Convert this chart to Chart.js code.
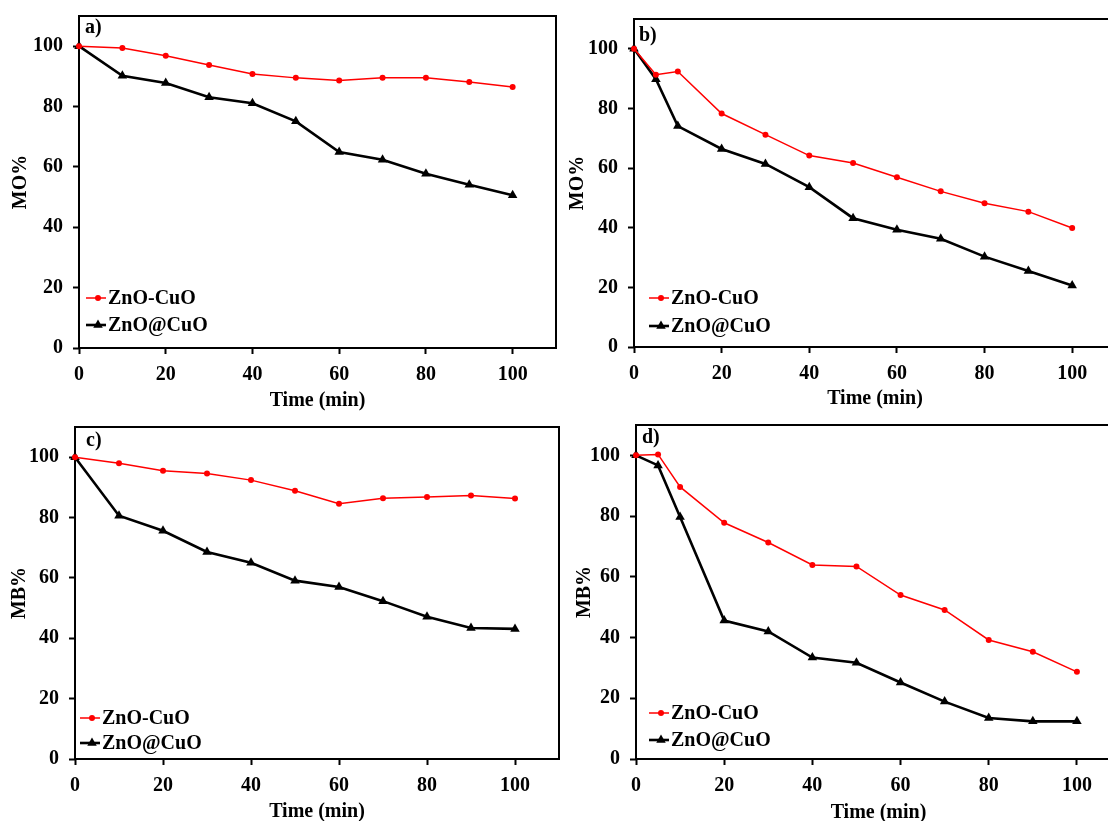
<!DOCTYPE html>
<html>
<head>
<meta charset="utf-8">
<script src="https://cdn.jsdelivr.net/npm/chart.js@4.4.1/dist/chart.umd.min.js"></script>
<style>
  html, body { margin: 0; padding: 0; background: #fff; overflow: hidden; }
  body { width: 1108px; height: 821px; position: relative; }
  canvas { position: absolute; }
</style>
</head>
<body>
<canvas id="panelA" width="560" height="412" style="left:0;top:0"></canvas>
<canvas id="panelB" width="562" height="412" style="left:556px;top:0"></canvas>
<canvas id="panelC" width="562" height="412" style="left:0;top:412px"></canvas>
<canvas id="panelD" width="567" height="412" style="left:556px;top:412px"></canvas>
<script>
// sampling times (min)
const timeA = [0, 10, 20, 30, 40, 50, 60, 70, 80, 90, 100];
const timeB = [0, 5, 10, 20, 30, 40, 50, 60, 70, 80, 90, 100];

// a) MO remaining, first run
const moMixA  = [100, 99.4, 96.8, 93.8, 90.8, 89.5, 88.6, 89.5, 89.5, 88.1, 86.5];
const moCoreA = [100, 90.2, 87.8, 83.1, 81.1, 75.1, 64.9, 62.4, 57.7, 54.1, 50.6];
// b) MO remaining, second run
const moMixB  = [100, 91.3, 92.4, 78.3, 71.2, 64.2, 61.7, 56.9, 52.2, 48.2, 45.4, 39.9];
const moCoreB = [100, 89.8, 74.1, 66.4, 61.4, 53.6, 43.2, 39.3, 36.3, 30.3, 25.5, 20.6];
// c) MB remaining, first run
const mbMixC  = [100, 98.0, 95.5, 94.6, 92.4, 88.9, 84.6, 86.4, 86.8, 87.3, 86.3];
const mbCoreC = [100, 80.6, 75.6, 68.6, 65.0, 59.1, 57.0, 52.3, 47.1, 43.4, 43.1];
// d) MB remaining, second run
const mbMixD  = [100, 100.3, 89.6, 77.8, 71.3, 63.9, 63.4, 54.0, 49.1, 39.2, 35.3, 28.7];
const mbCoreD = [100, 96.7, 79.7, 45.6, 42.0, 33.4, 31.7, 25.2, 18.9, 13.5, 12.4, 12.4];

const seriesNames = ['ZnO-CuO', 'ZnO@CuO'];
const panelTags = ['a)', 'b)', 'c)', 'd)'];
const yTitles = ['MO%', 'MO%', 'MB%', 'MB%'];
const xTitle = 'Time (min)';
const xTicks = [0, 20, 40, 60, 80, 100];
const yTicks = [0, 20, 40, 60, 80, 100];

const FONT = '"Liberation Serif", "Times New Roman", serif';

function pts(xs, ys) {
  return xs.map((x, i) => ({ x: x, y: ys[i] }));
}

// frame around the plot area
const frame = {
  id: 'frame',
  beforeDatasetsDraw(chart) {
    const { ctx, chartArea: a } = chart;
    ctx.save();
    ctx.strokeStyle = '#000';
    ctx.lineWidth = 2;
    ctx.strokeRect(a.left, a.top, a.right - a.left, a.bottom - a.top);
    ctx.restore();
  }
};

function marker(ctx, style, r, x, y) {
  ctx.beginPath();
  if (style === 'triangle') {
    let rad = 0;
    ctx.moveTo(x + Math.sin(rad) * r, y - Math.cos(rad) * r);
    rad += 2 * Math.PI / 3;
    ctx.lineTo(x + Math.sin(rad) * r, y - Math.cos(rad) * r);
    rad += 2 * Math.PI / 3;
    ctx.lineTo(x + Math.sin(rad) * r, y - Math.cos(rad) * r);
    ctx.closePath();
  } else {
    ctx.arc(x, y, r, 0, Math.PI * 2);
  }
  ctx.fill();
}

// panel tag and in-plot legend
const overlay = {
  id: 'overlay',
  afterDatasetsDraw(chart, args, opts) {
    const { ctx, chartArea: a } = chart;
    ctx.save();
    ctx.fillStyle = '#000';
    ctx.font = 'bold 20px ' + FONT;
    ctx.textBaseline = 'alphabetic';
    ctx.fillText(opts.tag, a.left + opts.tagX, a.top + opts.tagY);

    ctx.textBaseline = 'middle';
    chart.data.datasets.forEach((ds, i) => {
      const y = a.bottom - opts.rows[i];
      const x0 = a.left + opts.lineX;
      const x1 = x0 + 20;
      ctx.strokeStyle = ds.borderColor;
      ctx.lineWidth = ds.borderWidth;
      ctx.beginPath();
      ctx.moveTo(x0, y);
      ctx.lineTo(x1, y);
      ctx.stroke();
      ctx.fillStyle = ds.pointBackgroundColor;
      marker(ctx, ds.pointStyle, ds.pointRadius, (x0 + x1) / 2 + 2, y);
      ctx.fillStyle = '#000';
      ctx.fillText(ds.label, x1 + 2, y + 1);
    });
    ctx.restore();
  }
};

function makePanel(id, p) {
  const tickFont = { family: FONT, weight: 'bold', size: 20 };
  const titleFont = { family: FONT, weight: 'bold', size: 20 };
  const grid = {
    display: true,
    drawOnChartArea: false,
    drawTicks: true,
    tickLength: 6,
    tickWidth: 2,
    tickColor: '#000'
  };
  new Chart(document.getElementById(id), {
    type: 'line',
    data: {
      datasets: [
        {
          label: seriesNames[0],
          data: pts(p.time, p.mix),
          borderColor: '#ff0000',
          backgroundColor: '#ff0000',
          pointBackgroundColor: '#ff0000',
          pointBorderColor: '#ff0000',
          borderWidth: 1.5,
          pointStyle: 'circle',
          pointRadius: 3,
          pointBorderWidth: 0,
          tension: 0,
          clip: false
        },
        {
          label: seriesNames[1],
          data: pts(p.time, p.core),
          borderColor: '#000000',
          backgroundColor: '#000000',
          pointBackgroundColor: '#000000',
          pointBorderColor: '#000000',
          borderWidth: 2.6,
          pointStyle: 'triangle',
          pointRadius: 5.5,
          pointBorderWidth: 0,
          tension: 0,
          clip: false
        }
      ]
    },
    options: {
      responsive: false,
      animation: false,
      events: [],
      layout: {
        autoPadding: false,
        padding: { left: 0, top: p.top, right: p.right, bottom: 0 }
      },
      scales: {
        x: {
          type: 'linear',
          min: 0,
          max: 110,
          grid: grid,
          border: { display: false },
          afterBuildTicks: s => { s.ticks = xTicks.map(v => ({ value: v })); },
          afterFit: s => {
            s.height = p.xHeight;
            s.paddingLeft = 0;
            s.paddingRight = 0;
          },
          ticks: { color: '#000', font: tickFont, padding: 9, maxRotation: 0 },
          title: {
            display: true,
            text: xTitle,
            color: '#000',
            font: titleFont,
            padding: { top: 0, bottom: p.xTitlePad }
          }
        },
        y: {
          type: 'linear',
          min: 0,
          max: 110,
          grid: grid,
          border: { display: false },
          afterBuildTicks: s => { s.ticks = yTicks.map(v => ({ value: v })); },
          afterFit: s => {
            s.width = p.yWidth;
            s.paddingTop = 0;
            s.paddingBottom = 0;
          },
          ticks: { color: '#000', font: tickFont, padding: 10 },
          title: {
            display: true,
            text: p.yTitle,
            color: '#000',
            font: titleFont,
            padding: { top: p.yTitlePad, bottom: 0 }
          }
        }
      },
      plugins: {
        legend: { display: false },
        tooltip: { enabled: false },
        overlay: p.overlay
      }
    },
    plugins: [frame, overlay]
  });
}

makePanel('panelA', {
  time: timeA, mix: moMixA, core: moCoreA, yTitle: yTitles[0],
  top: 16, right: 4, yWidth: 79, xHeight: 64, yTitlePad: 9, xTitlePad: -1,
  overlay: { tag: panelTags[0], tagX: 6, tagY: 17, lineX: 7, rows: [50, 23] }
});
makePanel('panelB', {
  time: timeB, mix: moMixB, core: moCoreB, yTitle: yTitles[1],
  top: 19, right: 2, yWidth: 78, xHeight: 65, yTitlePad: 10, xTitlePad: 1,
  overlay: { tag: panelTags[1], tagX: 5, tagY: 22, lineX: 15, rows: [49, 21] }
});
makePanel('panelC', {
  time: timeA, mix: mbMixC, core: mbCoreC, yTitle: yTitles[2],
  top: 15, right: 3, yWidth: 75, xHeight: 65, yTitlePad: 8, xTitlePad: 0,
  overlay: { tag: panelTags[2], tagX: 11, tagY: 19, lineX: 5, rows: [41, 16] }
});
makePanel('panelD', {
  time: timeB, mix: mbMixD, core: mbCoreD, yTitle: yTitles[3],
  top: 13, right: 2, yWidth: 80, xHeight: 65, yTitlePad: 17, xTitlePad: -1,
  overlay: { tag: panelTags[3], tagX: 6, tagY: 18, lineX: 13, rows: [46, 19] }
});
</script>
</body>
</html>
